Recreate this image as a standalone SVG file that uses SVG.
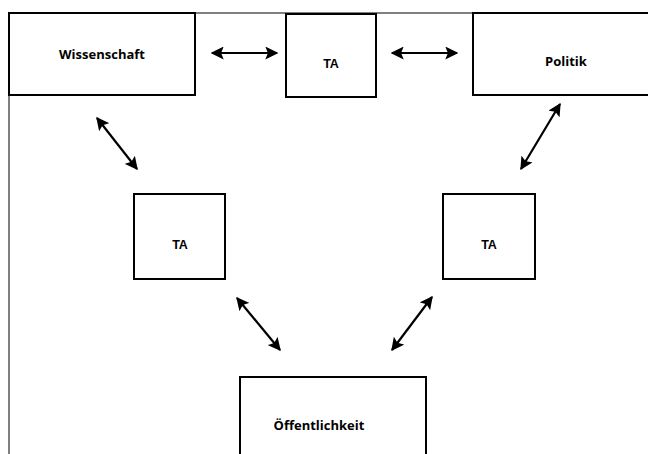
<svg xmlns="http://www.w3.org/2000/svg" width="648" height="454" viewBox="0 0 648 454">
<style>
.box{fill:#fff;stroke:#000;stroke-width:2}
.frame{fill:none;stroke:#555;stroke-width:1.5}
.lbl{font-family:"Open Sans","Noto Sans",sans-serif;font-weight:bold;font-size:13px;text-anchor:middle;fill:#000}
.ta{font-family:"Liberation Sans",Arial,sans-serif;font-weight:bold;font-size:12.5px;text-anchor:middle;fill:#000}
.arr{stroke:#000;stroke-width:2.2;fill:none;marker-start:url(#ah);marker-end:url(#ah)}
</style>
<defs>
<marker id="ah" markerUnits="userSpaceOnUse" markerWidth="13" markerHeight="13" viewBox="0 0 10 10" refX="9" refY="5" orient="auto-start-reverse">
<path d="M0,0 L10,5 L0,10 L2,5 Z" fill="#000"/>
</marker>
</defs>
<path class="frame" d="M9,454 V13 H648"/>
<g id="wissenschaft"><rect class="box" x="9" y="13" width="186" height="82"/><text class="lbl" x="102" y="59">Wissenschaft</text></g>
<g id="ta-top"><rect class="box" x="286" y="14" width="90" height="83"/><text class="ta" x="331" y="68">TA</text></g>
<g id="politik"><rect class="box" x="473" y="13" width="180" height="82"/><text class="lbl" x="566" y="66">Politik</text></g>
<g id="ta-left"><rect class="box" x="134" y="194" width="91" height="85"/><text class="ta" x="180" y="249">TA</text></g>
<g id="ta-right"><rect class="box" x="443" y="194" width="92" height="85"/><text class="ta" x="489" y="249">TA</text></g>
<g id="oeffentlichkeit"><rect class="box" x="240" y="377" width="186" height="90"/><text class="lbl" x="319" y="430">Öffentlichkeit</text></g>
<g id="connectors">
<line class="arr" x1="212" y1="53" x2="277" y2="53"/>
<line class="arr" x1="392" y1="53" x2="457" y2="53"/>
<line class="arr" x1="97" y1="118" x2="137" y2="169"/>
<line class="arr" x1="560" y1="104" x2="521" y2="169"/>
<line class="arr" x1="237" y1="298" x2="280" y2="350"/>
<line class="arr" x1="432" y1="297" x2="392" y2="350"/>
</g>
</svg>
